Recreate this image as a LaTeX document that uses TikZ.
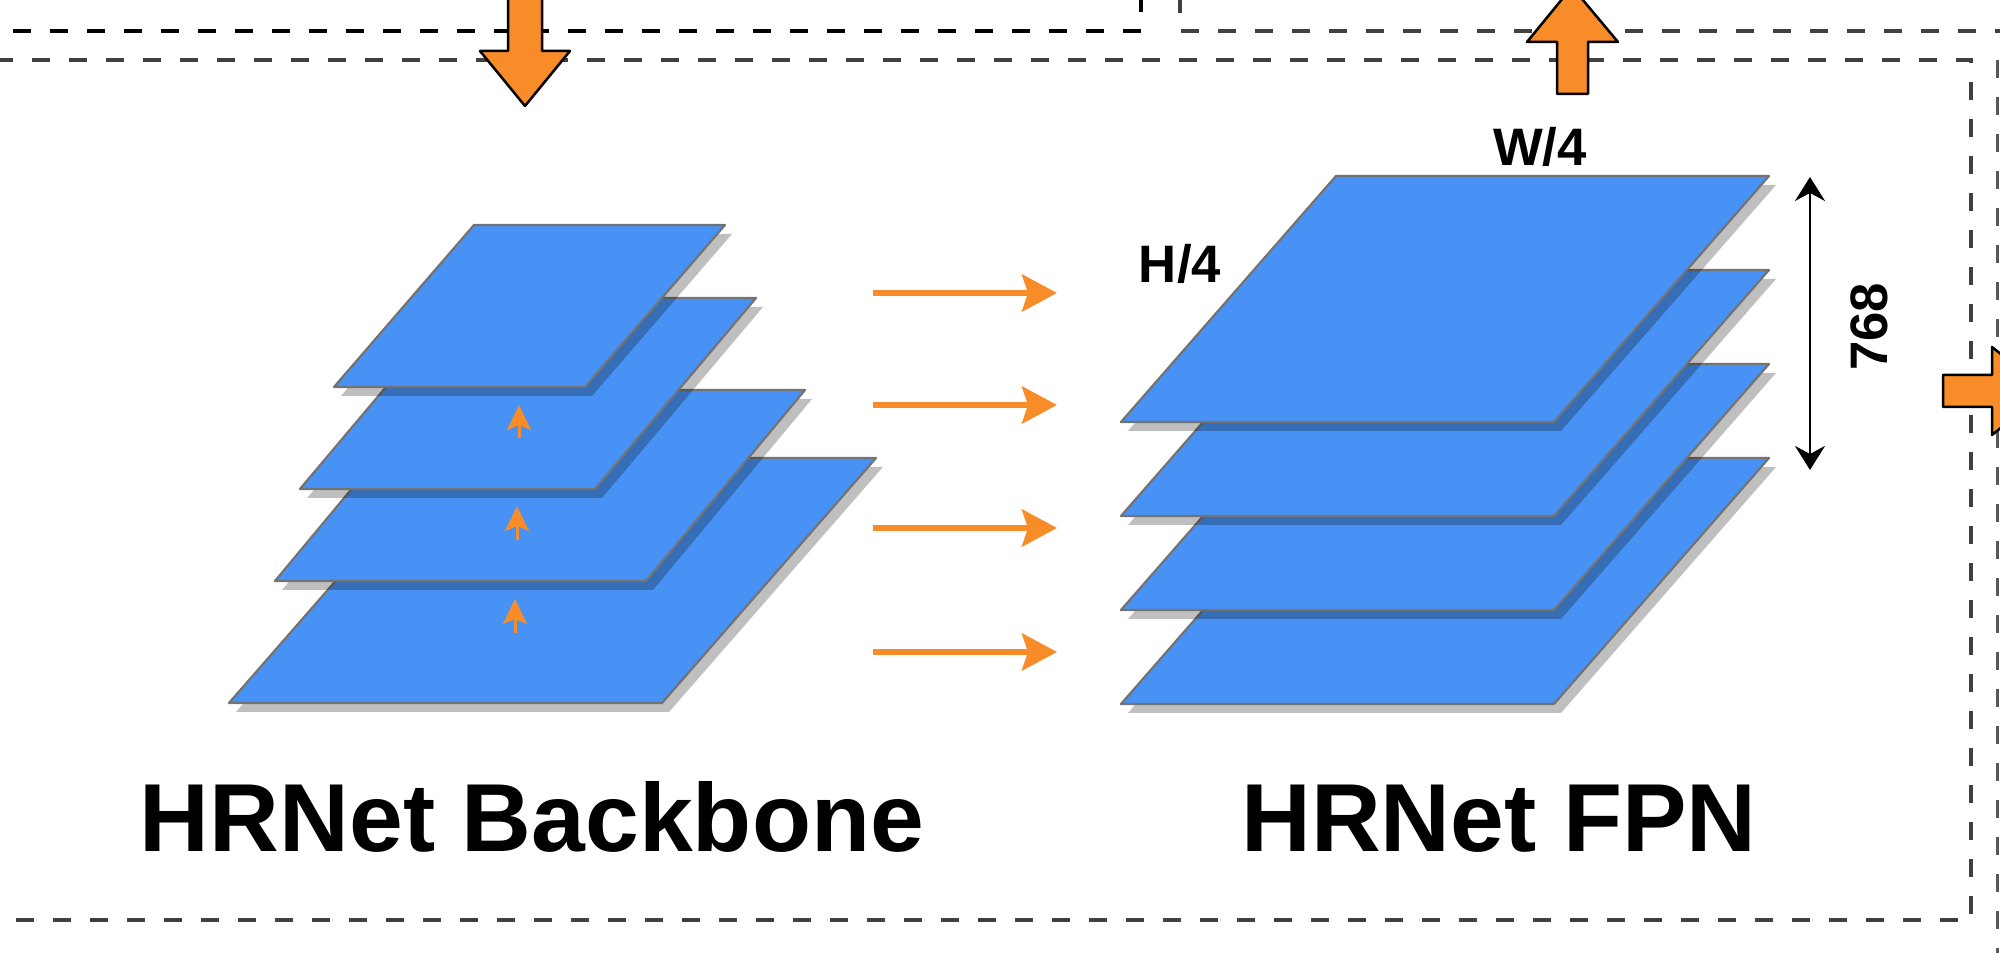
\documentclass[tikz,border=0pt]{standalone}
\usepackage{fontspec}
\setmainfont{Liberation Sans}
\usepackage{tikz}
\usetikzlibrary{arrows.meta}
\definecolor{azul}{RGB}{72,146,245}
\definecolor{laranja}{RGB}{247,140,40}
% placa: canto inferior esquerdo (#1,#2), largura #3, altura #4, desvio #5
\newcommand{\placa}[5]{
	\fill[sombra] ({#1+7},{#2+9}) -- ++(#3,0) -- ++(#5,-#4) -- ++(-#3,0) -- cycle;
	\draw[placa] (#1,#2) -- ++(#3,0) -- ++(#5,-#4) -- ++(-#3,0) -- cycle;
}

\begin{document}
\begin{tikzpicture}[x=0.1mm, y=-0.1mm,
		placa/.style={fill=azul, draw=black!55, line width=0.22mm, line join=round},
		sombra/.style={fill=black, opacity=0.25},
		tracejado/.style={line width=0.4mm, dash pattern=on 1.8mm off 1.9mm},
		bloco/.style={fill=laranja, draw=black, line width=0.25mm, line join=round},
		seta/.style={draw=laranja, line width=0.6mm, -{Stealth[length=3.5mm, width=3.7mm, inset=0.6mm]}},
		setinha/.style={draw=laranja, line width=0.3mm, -{Stealth[length=2.5mm, width=2.4mm, inset=0.5mm]}},
		titulo/.style={font=\fontsize{27.5}{33}\selectfont\bfseries, inner sep=0pt, anchor=base},
		rotulo/.style={font=\fontsize{15}{18}\selectfont\bfseries, inner sep=0pt}]
	\useasboundingbox (0,0) rectangle (2000,953);
	\clip (0,0) rectangle (2000,953);
	
	%Bordas tracejadas
	\draw[tracejado, black] (13,31) -- (1141,31) -- (1141,-5);
	\draw[tracejado, black!75] (1180,-5) -- (1180,31) -- (2010,31);
	\draw[tracejado, black!75, line width=0.35mm] (-5,60) -- (1971,60) -- (1971,920) -- (-5,920);
	\draw[tracejado, black!65, line width=0.3mm] (1997,60) -- (1997,960);
	
	%Setas grandes
	\draw[bloco] (508,-5) -- (542,-5) -- (542,51) -- (570,51) -- (525,106) -- (480,51) -- (508,51) -- cycle;
	\draw[bloco] (1557,94) -- (1588,94) -- (1588,42) -- (1618,42) -- (1572,-13) -- (1527,42) -- (1557,42) -- cycle;
	\draw[bloco] (1943,375) -- (1992,375) -- (1992,347) -- (2047,391) -- (1992,435) -- (1992,407) -- (1943,407) -- cycle;
	
	%Backbone
	\placa{229}{703}{433}{245}{214}
	\placa{275}{581}{371}{191}{159}
	\placa{300}{489}{295}{191}{161}
	\placa{334}{387}{251}{162}{140}
	\draw[setinha] (515,633) -- (515,599);
	\draw[setinha] (517,540) -- (517,506);
	\draw[setinha] (519,438) -- (519,405);
	
	%Setas entre os blocos
	\draw[seta] (873,293) -- (1057,293);
	\draw[seta] (873,405) -- (1057,405);
	\draw[seta] (873,528) -- (1057,528);
	\draw[seta] (873,652) -- (1057,652);
	
	%FPN
	\placa{1121}{704}{433}{246}{215}
	\placa{1121}{610}{433}{246}{215}
	\placa{1121}{516}{433}{246}{215}
	\placa{1121}{422}{433}{246}{215}
	\node[rotulo, anchor=base] (largura) at (1540,166) {W/4};
	\node[rotulo, anchor=base] (altura) at (1180,283) {H/4};
	\draw[black, line width=0.25mm, {Stealth[length=2.4mm, width=3mm, inset=0.8mm]}-{Stealth[length=2.4mm, width=3mm, inset=0.8mm]}] (1810,177) -- (1810,470);
	\node[rotulo, rotate=90] (canais) at (1869,327) {768};
	
	%Legendas
	\node[titulo] (backbone) at (532,852) {HRNet Backbone};
	\node[titulo] (fpn) at (1499,852) {HRNet FPN};
\end{tikzpicture}
\end{document}
